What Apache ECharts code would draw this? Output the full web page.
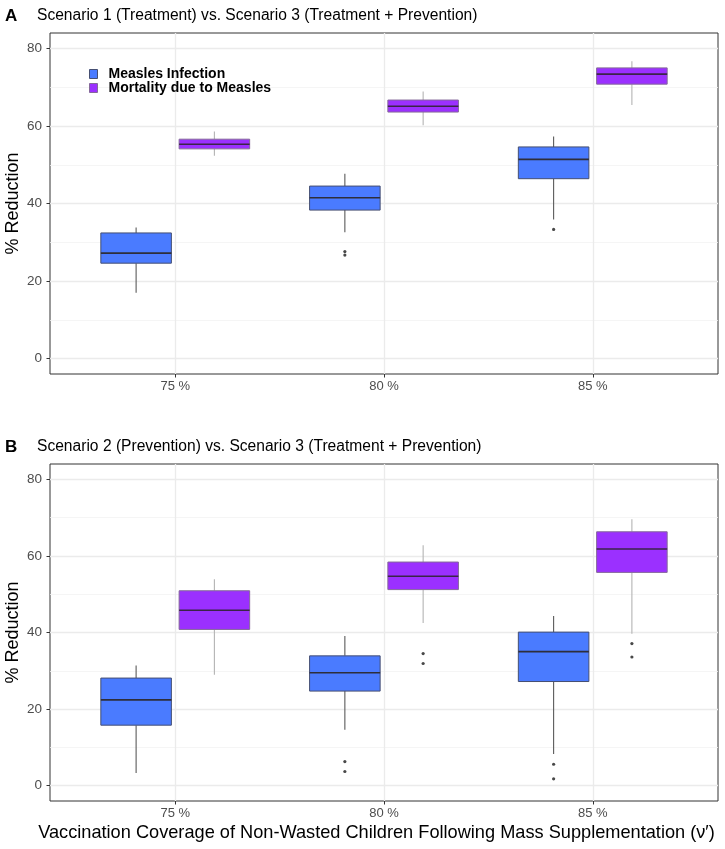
<!DOCTYPE html>
<html>
<head>
<meta charset="utf-8">
<script src="https://cdn.jsdelivr.net/npm/echarts@6/dist/echarts.min.js"></script>
<style>
  html, body { margin: 0; padding: 0; background: #fff; }
  #chart { width: 725px; height: 849px; }
</style>
</head>
<body>
<div id="chart"></div>
<script>
// ---------- data ----------
const categories = ['75 %', '80 %', '85 %'];
const seriesNames = ['Measles Infection', 'Mortality due to Measles'];
const yTicks = [0, 20, 40, 60, 80];
const yMinorTicks = [10, 30, 50, 70];

// [lower whisker, Q1, median, Q3, upper whisker] per category
const A_infection = [[17.0, 24.6, 27.2, 32.4, 33.8], [32.6, 38.3, 41.5, 44.5, 47.7], [35.9, 46.4, 51.4, 54.6, 57.3]];
const A_mortality = [[52.3, 54.1, 55.3, 56.6, 58.6], [60.2, 63.6, 65.1, 66.7, 68.9], [65.4, 70.8, 73.4, 75.0, 76.7]];
const A_infection_outliers = [[1, 27.6], [1, 26.7], [2, 33.3]];
const A_mortality_outliers = [];

const B_infection = [[3.3, 15.8, 22.4, 28.1, 31.4], [14.6, 24.7, 29.5, 33.9, 39.1], [8.3, 27.2, 35.0, 40.1, 44.3]];
const B_mortality = [[29.0, 40.8, 45.8, 50.9, 53.9], [42.5, 51.2, 54.7, 58.4, 62.8], [39.7, 55.7, 61.8, 66.3, 69.6]];
const B_infection_outliers = [[1, 6.3], [1, 3.7], [2, 5.6], [2, 1.8]];
const B_mortality_outliers = [[1, 34.5], [1, 31.9], [2, 37.1], [2, 33.6]];

const titleA = 'Scenario 1 (Treatment) vs. Scenario 3 (Treatment + Prevention)';
const titleB = 'Scenario 2 (Prevention) vs. Scenario 3 (Treatment + Prevention)';
const xTitle = 'Vaccination Coverage of Non-Wasted Children Following Mass Supplementation (\u03BD\u2032)';
const yTitle = '% Reduction';

// ---------- styles ----------
const FONT = 'Liberation Sans, Arial, sans-serif';
const styles = [
  { fill: '#4A7BFF', stroke: '#454F72', whisker: '#5A5A5A', median: '#2E2E3A' },
  { fill: '#9B30FF', stroke: '#85699A', whisker: '#B3B3B3', median: '#3A2448' }
];
const dodge = [-0.1875, 0.1875];
const halfW = 0.169;

function boxRender(k) {
  const st = styles[k];
  return function (params, api) {
    const x = api.value(0) + 1 + dodge[k];
    const lo = api.coord([x, api.value(1)]);
    const q1 = api.coord([x, api.value(2)]);
    const med = api.coord([x, api.value(3)]);
    const q3 = api.coord([x, api.value(4)]);
    const hi = api.coord([x, api.value(5)]);
    const l = api.coord([x - halfW, api.value(3)])[0];
    const r = api.coord([x + halfW, api.value(3)])[0];
    return {
      type: 'group',
      children: [
        { type: 'line', shape: { x1: hi[0], y1: hi[1], x2: q3[0], y2: q3[1] }, style: { stroke: st.whisker, lineWidth: 1.1 } },
        { type: 'line', shape: { x1: q1[0], y1: q1[1], x2: lo[0], y2: lo[1] }, style: { stroke: st.whisker, lineWidth: 1.1 } },
        { type: 'rect', shape: { x: l, y: q3[1], width: r - l, height: q1[1] - q3[1] }, style: { fill: st.fill, stroke: st.stroke, lineWidth: 1 } },
        { type: 'line', shape: { x1: l, y1: med[1], x2: r, y2: med[1] }, style: { stroke: st.median, lineWidth: 1.6 } }
      ]
    };
  };
}

function boxData(arr) {
  return arr.map((v, i) => [i].concat(v));
}
function outlierData(arr, k) {
  return arr.map(p => [p[0] + 1 + dodge[k], p[1]]);
}

const grids = [
  { left: 50, top: 33, width: 668, height: 341 },
  { left: 50, top: 464, width: 668, height: 337 }
];

function xAxisFor(g, withName) {
  const ax = {
    type: 'value', gridIndex: g, min: 0.4, max: 3.6,
    axisLine: { show: false, onZero: false },
    axisTick: { show: true, customValues: [1, 2, 3], length: 3.5, lineStyle: { color: '#333', width: 1 } },
    axisLabel: {
      customValues: [1, 2, 3], formatter: v => categories[Math.round(v) - 1] || '',
      color: '#4D4D4D', fontSize: 13, fontFamily: FONT, margin: 6
    },
    splitLine: { show: true, lineStyle: { color: '#EBEBEB', width: 1.3 } }
  };
  if (withName) {
    ax.name = xTitle;
    ax.nameLocation = 'middle';
    ax.nameGap = 23;
    ax.nameTextStyle = { fontSize: 18.2, color: '#000', fontFamily: FONT, padding: [0, 15, 0, 0] };
  }
  return ax;
}
function yAxisFor(g) {
  return {
    type: 'value', gridIndex: g, min: -4, max: 84,
    axisLine: { show: false, onZero: false },
    axisTick: { show: true, customValues: yTicks, length: 3.5, lineStyle: { color: '#333', width: 1 } },
    axisLabel: { customValues: yTicks, color: '#4D4D4D', fontSize: 13.5, fontFamily: FONT, margin: 8 },
    splitLine: { show: true, lineStyle: { color: '#EBEBEB', width: 1.3 } },
    name: yTitle, nameLocation: 'middle', nameGap: 28, nameRotate: 90, nameMoveOverlap: false,
    nameTextStyle: { fontSize: 18, color: '#000', fontFamily: FONT }
  };
}
function yMinorFor(g) {
  return {
    type: 'value', gridIndex: g, min: -4, max: 84,
    axisLine: { show: false, onZero: false },
    axisTick: { show: false, customValues: yMinorTicks },
    axisLabel: { show: false, customValues: yMinorTicks },
    splitLine: { show: true, lineStyle: { color: '#F2F2F2', width: 0.8 } }
  };
}

const panels = [
  [A_infection, A_mortality, A_infection_outliers, A_mortality_outliers],
  [B_infection, B_mortality, B_infection_outliers, B_mortality_outliers]
];
const series = [];
panels.forEach((p, g) => {
  [0, 1].forEach(k => {
    series.push({
      type: 'custom', name: seriesNames[k], xAxisIndex: g, yAxisIndex: g * 2,
      itemStyle: { color: styles[k].fill, borderColor: styles[k].stroke },
      renderItem: boxRender(k), data: boxData(p[k]), z: 3,
      encode: { x: 0, y: [1, 2, 3, 4, 5] }
    });
  });
  [0, 1].forEach(k => {
    series.push({
      type: 'scatter', xAxisIndex: g, yAxisIndex: g * 2, symbolSize: 3.2,
      itemStyle: { color: '#1A1A1A' }, data: outlierData(p[2 + k], k), z: 4, silent: true
    });
  });
});

const option = {
  animation: false,
  backgroundColor: '#fff',
  textStyle: { fontFamily: FONT },
  title: [
    { text: 'A', left: 5, top: 8, padding: 0, textStyle: { fontSize: 17, fontWeight: 'bold', color: '#000', fontFamily: FONT } },
    { text: titleA, left: 37, top: 8, padding: 0, textStyle: { fontSize: 15.6, fontWeight: 'normal', color: '#000', fontFamily: FONT } },
    { text: 'B', left: 5, top: 439, padding: 0, textStyle: { fontSize: 17, fontWeight: 'bold', color: '#000', fontFamily: FONT } },
    { text: titleB, left: 37, top: 439, padding: 0, textStyle: { fontSize: 15.6, fontWeight: 'normal', color: '#000', fontFamily: FONT } }
  ],
  legend: {
    left: 89, top: 67, padding: 0, orient: 'vertical', itemGap: 0, itemWidth: 8, itemHeight: 9,
    selectedMode: false,
    data: [
      { name: seriesNames[0], icon: 'rect', itemStyle: { color: styles[0].fill, borderColor: styles[0].stroke, borderWidth: 1 } },
      { name: seriesNames[1], icon: 'rect', itemStyle: { color: styles[1].fill, borderColor: styles[1].stroke, borderWidth: 1 } }
    ],
    textStyle: { fontSize: 14, fontWeight: 'bold', color: '#000', fontFamily: FONT, lineHeight: 14, padding: [0, 0, 0, 6] }
  },
  grid: grids.map(g => Object.assign({ show: true, borderColor: '#333', borderWidth: 1, backgroundColor: '#fff', outerBoundsMode: 'none', containLabel: false }, g)),
  xAxis: [xAxisFor(0, false), xAxisFor(1, true)],
  yAxis: [yAxisFor(0), yMinorFor(0), yAxisFor(1), yMinorFor(1)],
  series: series
};

const chart = echarts.init(document.getElementById('chart'), null, { renderer: 'canvas' });
chart.setOption(option);
</script>
</body>
</html>
